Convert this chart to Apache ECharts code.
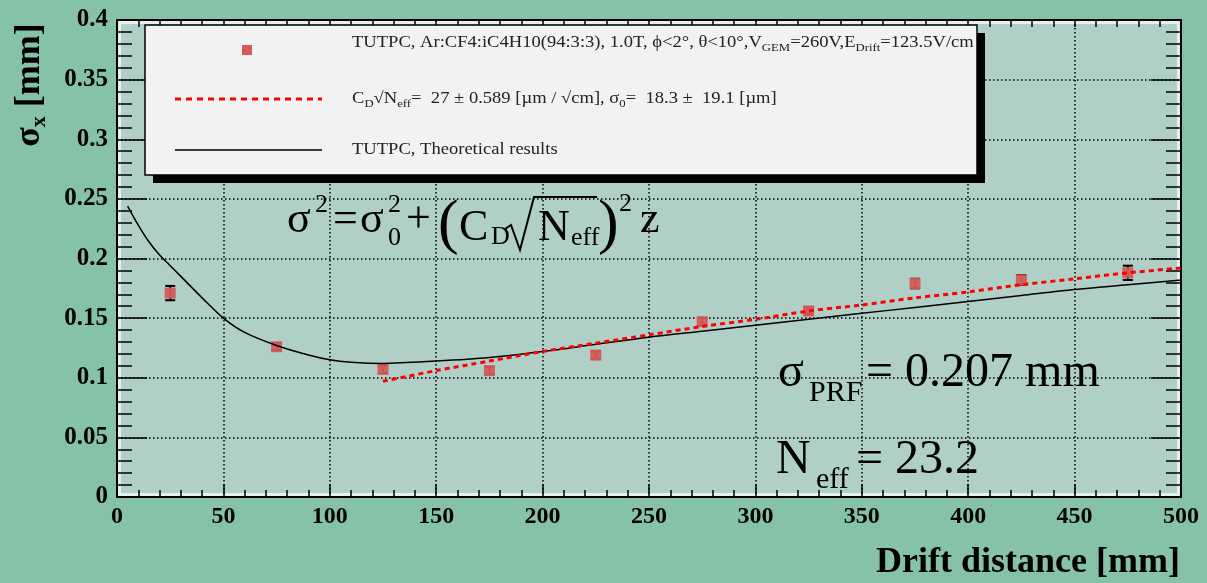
<!DOCTYPE html>
<html><head><meta charset="utf-8">
<script src="https://cdn.jsdelivr.net/npm/echarts@6/dist/echarts.min.js"></script>
<style>html,body{margin:0;padding:0;background:#86c2a6;}#c{width:1207px;height:583px;}</style>
</head><body><div id="c"></div>
<script>
// Measured points (drift distance [mm], sigma_x [mm], error)
const measX = [25, 75, 125, 175, 225, 275, 325, 375, 425, 475];
const measY = [0.171, 0.126, 0.107, 0.106, 0.119, 0.147, 0.156, 0.179, 0.182, 0.188];
const measErr = [0.006, 0.003, 0.003, 0.003, 0.003, 0.003, 0.003, 0.004, 0.004, 0.006];
// Fit curve (red dotted)
const fitX = [125, 150, 175, 200, 225, 250, 275, 300, 325, 350, 375, 400, 425, 450, 475, 500];
const fitY = [0.097, 0.106, 0.114, 0.122, 0.129, 0.136, 0.143, 0.149, 0.156, 0.161, 0.167, 0.172, 0.178, 0.183, 0.188, 0.192];
// Theoretical curve (black)
const theoX = [5, 10, 15, 20, 25, 30, 40, 50, 60, 75, 90, 100, 110, 125, 150, 175, 200, 225, 250, 275, 300, 325, 350, 375, 400, 425, 450, 475, 500];
const theoY = [0.244, 0.228, 0.214, 0.203, 0.194, 0.185, 0.167, 0.150, 0.138, 0.127, 0.119, 0.115, 0.113, 0.112, 0.114, 0.117, 0.122, 0.128, 0.134, 0.139, 0.144, 0.149, 0.154, 0.159, 0.164, 0.169, 0.174, 0.178, 0.182];
// Axis ranges / ticks
const xRange = [0, 500], xStep = 50;
const yRange = [0, 0.4], yStep = 0.05;
// Texts
const xTitle = 'Drift distance [mm]';
const legend1 = ['TUTPC, Ar:CF4:iC4H10(94:3:3), 1.0T, \u03d5<2\u00b0, \u03b8<10\u00b0,V', 'GEM', '=260V,E', 'Drift', '=123.5V/cm'];
const legend2 = ['C', 'D', '\u221aN', 'eff', '=  27 \u00b1 0.589 [\u00b5m / \u221acm], \u03c3', '0', '=  18.3 \u00b1  19.1 [\u00b5m]'];
const legend3 = 'TUTPC, Theoretical results';

const SERIF = "'Liberation Serif','DejaVu Serif',serif";
const chart = echarts.init(document.getElementById('c'), null, {renderer: 'canvas'});

const tickStyle = {color: '#000', width: 1.5};
const gridDot = {color: '#000', width: 1.5, type: [1.5, 2.5]};

function txt(x, y, text, size, opts) {
  opts = opts || {};
  return {type: 'text', z: opts.z || 50, x: x, y: y, rotation: opts.rot || 0,
    scaleX: opts.sx || 1, scaleY: opts.sy || 1,
    style: {text: text, x: 0, y: 0, fill: opts.fill || '#000',
      font: (opts.bold ? 'bold ' : '') + size + 'px ' + SERIF,
      textAlign: opts.align || 'left', textVerticalAlign: 'middle', align: opts.align || 'left', verticalAlign: 'middle'}};
}
// baseline -> middle
function bl(base, size) { return base - 0.34 * size; }

const legendRich = {
  n: {fontSize: 16, fontFamily: SERIF, fill: '#222', lineHeight: 19, verticalAlign: 'top'},
  s: {fontSize: 11, fontFamily: SERIF, fill: '#222', lineHeight: 11, verticalAlign: 'bottom'}
};
function richText(parts) {
  return parts.map((p, i) => (i % 2 === 0 ? '{n|' : '{s|') + p + '}').join('');
}
const LSX = 1.16;

const graphics = [
  // plot background with white inner frame
  {type: 'rect', z: -5, shape: {x: 119, y: 22, width: 1060, height: 473}, style: {fill: '#b0d0c7', stroke: '#e8f0ed', lineWidth: 4}},
  // legend shadow and box
  {type: 'rect', z: 90, shape: {x: 153, y: 33, width: 832, height: 150}, style: {fill: '#000'}},
  {type: 'rect', z: 91, shape: {x: 145, y: 25, width: 832, height: 150}, style: {fill: '#f2f2f2', stroke: '#000', lineWidth: 1.5}},
  {type: 'rect', z: 92, shape: {x: 242, y: 45, width: 10, height: 10}, style: {fill: '#d65a5a'}},
  {type: 'line', z: 92, shape: {x1: 175, y1: 99, x2: 322, y2: 99}, style: {stroke: '#ff0000', lineWidth: 3, lineDash: [6, 5]}},
  {type: 'line', z: 92, shape: {x1: 175, y1: 150, x2: 322, y2: 150}, style: {stroke: '#000', lineWidth: 1.5}},
  {type: 'text', z: 93, x: 352, y: 44, scaleX: LSX, style: {text: richText(legend1), rich: legendRich, x: 0, y: 0, verticalAlign: 'middle', textVerticalAlign: 'middle'}},
  {type: 'text', z: 93, x: 352, y: 100, scaleX: LSX, style: {text: richText(legend2), rich: legendRich, x: 0, y: 0, verticalAlign: 'middle', textVerticalAlign: 'middle'}},
  {type: 'text', z: 93, x: 352, y: 150, scaleX: LSX, style: {text: legend3, x: 0, y: 0, fill: '#222', font: '16px ' + SERIF, verticalAlign: 'middle', textVerticalAlign: 'middle'}},
  // formula
  txt(287, bl(235, 44), '\u03c3', 44),
  txt(315, bl(214, 26), '2', 26),
  txt(333, bl(235, 44), '=', 44),
  txt(360, bl(235, 44), '\u03c3', 44),
  txt(388, bl(214, 26), '2', 26),
  txt(388, bl(247, 26), '0', 26),
  txt(406, bl(235, 44), '+', 44),
  txt(438, bl(247, 62), '(', 62),
  txt(459, bl(243, 44), 'C', 44),
  txt(491, bl(246, 26), 'D', 26),
  {type: 'polyline', z: 50, shape: {points: [[505, 229], [511, 225], [520, 250], [534, 197], [597, 197]]}, style: {stroke: '#000', lineWidth: 2, fill: null}},
  txt(538, bl(243, 44), 'N', 44),
  txt(571, bl(247, 26), 'eff', 26),
  txt(598, bl(247, 62), ')', 62),
  txt(619, bl(213, 26), '2', 26),
  txt(640, bl(235, 44), 'z', 44),
  // sigma_PRF
  txt(778, bl(390, 48), '\u03c3', 48),
  txt(809, bl(403, 30), 'PRF', 30),
  txt(866, bl(390, 48), '= 0.207 mm', 48),
  // N_eff
  txt(776, bl(477, 48), 'N', 48),
  txt(816, bl(490, 30), 'eff', 30),
  txt(856, bl(477, 48), '= 23.2', 48),
  // axis titles
  txt(1180, bl(575, 36), xTitle, 36, {bold: true, align: 'right'}),
  {type: 'text', z: 50, x: 31, y: 85, rotation: Math.PI / 2,
    style: {text: '{a|\u03c3}{b|x}{a| [mm]}', x: 0, y: 0, align: 'center', textAlign: 'center', verticalAlign: 'middle', textVerticalAlign: 'middle',
      rich: {a: {fontSize: 36, fontFamily: SERIF, fontWeight: 'bold', fill: '#000', lineHeight: 38, verticalAlign: 'top'},
             b: {fontSize: 22, fontFamily: SERIF, fontWeight: 'bold', fill: '#000', lineHeight: 22, verticalAlign: 'bottom'}}}}
];

const option = {
  backgroundColor: '#86c2a6',
  animation: false,
  grid: {left: 117, right: 26, top: 20, bottom: 86, show: false},
  xAxis: [
    {type: 'value', min: xRange[0], max: xRange[1], interval: xStep, position: 'bottom',
      axisLine: {show: true, onZero: false, lineStyle: {color: '#000', width: 2}},
      axisTick: {inside: true, length: 13, lineStyle: tickStyle},
      minorTick: {show: true, splitNumber: 5, length: 7, lineStyle: tickStyle},
      axisLabel: {margin: 8, color: '#000', fontFamily: SERIF, fontWeight: 'bold', fontSize: 24},
      splitLine: {show: true, lineStyle: gridDot}},
    {type: 'value', min: xRange[0], max: xRange[1], interval: xStep, position: 'top',
      axisLine: {show: true, onZero: false, lineStyle: {color: '#000', width: 2}},
      axisTick: {inside: true, length: 7, lineStyle: tickStyle},
      minorTick: {show: true, splitNumber: 5, length: 7, lineStyle: tickStyle},
      axisLabel: {show: false}, splitLine: {show: false}}
  ],
  yAxis: [
    {type: 'value', min: yRange[0], max: yRange[1], interval: yStep, position: 'left',
      axisLine: {show: true, onZero: false, lineStyle: {color: '#000', width: 2}},
      axisTick: {inside: true, length: 30, lineStyle: tickStyle},
      minorTick: {show: true, splitNumber: 5, length: 15, lineStyle: tickStyle},
      axisLabel: {margin: 9, color: '#000', fontFamily: SERIF, fontWeight: 'bold', fontSize: 25},
      splitLine: {show: true, lineStyle: gridDot}},
    {type: 'value', min: yRange[0], max: yRange[1], interval: yStep, position: 'right',
      axisLine: {show: true, onZero: false, lineStyle: {color: '#000', width: 2}},
      axisTick: {inside: true, length: 30, lineStyle: tickStyle},
      minorTick: {show: true, splitNumber: 5, length: 15, lineStyle: tickStyle},
      axisLabel: {show: false}, splitLine: {show: false}}
  ],
  series: [
    {type: 'custom', name: 'err', z: 3, xAxisIndex: 0, yAxisIndex: 0,
      data: measX.map((x, i) => [x, measY[i] - measErr[i], measY[i] + measErr[i]]),
      renderItem: function (params, api) {
        const lo = api.coord([api.value(0), api.value(1)]);
        const hi = api.coord([api.value(0), api.value(2)]);
        return {type: 'group', children: [
          {type: 'line', shape: {x1: lo[0], y1: lo[1], x2: hi[0], y2: hi[1]}, style: {stroke: '#000', lineWidth: 2}},
          {type: 'line', shape: {x1: lo[0] - 5, y1: lo[1], x2: lo[0] + 5, y2: lo[1]}, style: {stroke: '#000', lineWidth: 2}},
          {type: 'line', shape: {x1: hi[0] - 5, y1: hi[1], x2: hi[0] + 5, y2: hi[1]}, style: {stroke: '#000', lineWidth: 2}}
        ]};
      }},
    {type: 'scatter', name: 'data', z: 4, symbol: 'rect', symbolSize: 11,
      itemStyle: {color: '#d65a5a', opacity: 0.95},
      data: measX.map((x, i) => [x, measY[i]])},
    {type: 'line', name: 'theory', z: 5, showSymbol: false, symbol: 'none', smooth: 0.3,
      lineStyle: {color: '#000', width: 1.5},
      data: theoX.map((x, i) => [x, theoY[i]])},
    {type: 'line', name: 'fit', z: 6, showSymbol: false, symbol: 'none', smooth: 0.3,
      lineStyle: {color: '#ff0000', width: 3, type: [5, 4]},
      data: fitX.map((x, i) => [x, fitY[i]])}
  ],
  graphic: {elements: graphics}
};
chart.setOption(option);
</script>
</body></html>
